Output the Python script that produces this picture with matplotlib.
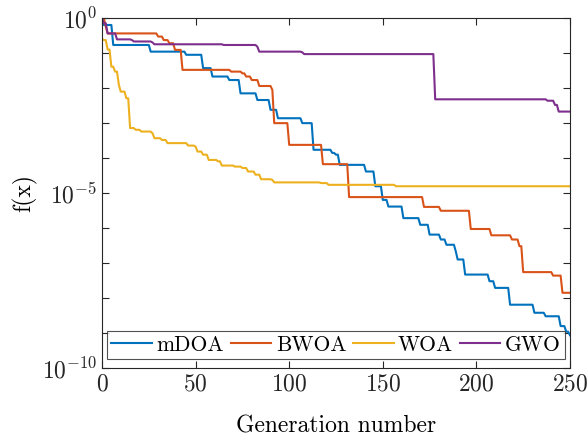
import numpy as np
import matplotlib
matplotlib.use("Agg")
import matplotlib.pyplot as plt

plt.rcParams["font.family"] = "cmr10"
plt.rcParams["mathtext.fontset"] = "cm"
plt.rcParams["axes.formatter.use_mathtext"] = True
plt.rcParams["axes.unicode_minus"] = False

# breakpoints: generation where the best value changes, and log10 of the value
mdoa_x = [0, 1, 6, 26, 45, 54, 59, 68, 74, 83, 90, 94, 107, 113, 123, 125, 127,
          141, 146, 150, 153, 161, 170, 175, 181, 184, 189, 190, 194, 207, 210,
          218, 231, 237, 245, 248, 250]
mdoa_y = [0, -0.2, -0.77, -0.96, -1.05, -1.43, -1.67, -1.77, -2.15, -2.34, -2.62,
          -2.86, -3.0, -3.76, -3.85, -3.9, -4.19, -4.38, -4.8, -5.19, -5.38, -5.71,
          -5.9, -6.18, -6.32, -6.47, -6.66, -6.89, -7.32, -7.51, -7.7, -8.18, -8.41,
          -8.51, -8.79, -8.95, -9.05]

bwoa_x = [0, 2, 3, 30, 33, 36, 39, 43, 69, 75, 77, 80, 84, 91, 92, 100, 118, 132,
          172, 181, 197, 208, 219, 223, 225, 241, 246, 250]
bwoa_y = [0, -0.25, -0.44, -0.53, -0.63, -0.72, -0.91, -1.48, -1.53, -1.58, -1.67,
          -1.77, -1.94, -2.05, -3.0, -3.62, -4.17, -5.11, -5.39, -5.5, -6.02, -6.2,
          -6.32, -6.51, -7.25, -7.35, -7.84, -7.84]

woa_x = [0, 1, 3, 5, 7, 9, 10, 13, 15, 18, 21, 27, 28, 32, 35, 46, 50, 51, 54, 57,
         62, 64, 71, 75, 78, 82, 85, 91, 92, 117, 121, 157, 250]
woa_y = [-0.6, -0.63, -0.9, -1.39, -1.53, -1.91, -2.1, -2.29, -3.14, -3.19, -3.24,
         -3.29, -3.43, -3.48, -3.57, -3.64, -3.67, -3.81, -3.9, -4.05, -4.09, -4.21,
         -4.24, -4.28, -4.38, -4.47, -4.6, -4.62, -4.69, -4.71, -4.76, -4.8, -4.8]

gwo_x = [0, 1, 3, 8, 16, 17, 27, 28, 65, 83, 84, 107, 108, 178, 238, 242, 244, 250]
gwo_y = [0, -0.15, -0.44, -0.61, -0.63, -0.67, -0.7, -0.75, -0.77, -0.82, -0.96,
         -0.98, -1.03, -2.32, -2.36, -2.48, -2.67, -2.67]

names = ["mDOA", "BWOA", "WOA", "GWO"]
colors = ["#0072BD", "#D95319", "#EDB120", "#7E2F8E"]
series = [(mdoa_x, mdoa_y), (bwoa_x, bwoa_y), (woa_x, woa_y), (gwo_x, gwo_y)]

gens = np.arange(0, 251)

fig = plt.figure(figsize=(5.87, 4.41), dpi=100)
ax = fig.add_axes([0.1738, 0.1644, 0.7972, 0.7948])

for (bx, by), name, c in zip(series, names, colors):
    # best-so-far value at each generation
    idx = np.searchsorted(bx, gens, side="right") - 1
    vals = 10.0 ** np.array(by)[idx]
    ax.plot(gens, vals, color=c, lw=1.5, label=name)

ax.set_yscale("log")
ax.set_xlim(0, 250)
ax.set_ylim(1e-10, 1e0)
ax.set_xticks([0, 50, 100, 150, 200, 250])
ax.set_yticks([1e-10, 1e-5, 1e0])
ax.set_yticks([10.0 ** k for k in range(-10, 1)], minor=True)
ax.yaxis.set_minor_formatter(matplotlib.ticker.NullFormatter())
ax.tick_params(which="both", direction="in", top=True, right=True,
               length=5, width=0.8, labelsize=17, colors="#262626")
for s in ax.spines.values():
    s.set_color("#262626")
    s.set_linewidth(0.8)

ax.set_xlabel("Generation number", fontsize=17, labelpad=14)
ax.set_ylabel("f(x)", fontsize=17, labelpad=3)

leg = ax.legend(loc="lower center", ncol=4, fontsize=15.5, frameon=True,
                fancybox=False, edgecolor="#262626", handlelength=1.9,
                handletextpad=0.2, columnspacing=0.3, borderpad=0.2,
                borderaxespad=0.45)
leg.get_frame().set_linewidth(0.8)

fig.savefig("out.png", dpi=100)
